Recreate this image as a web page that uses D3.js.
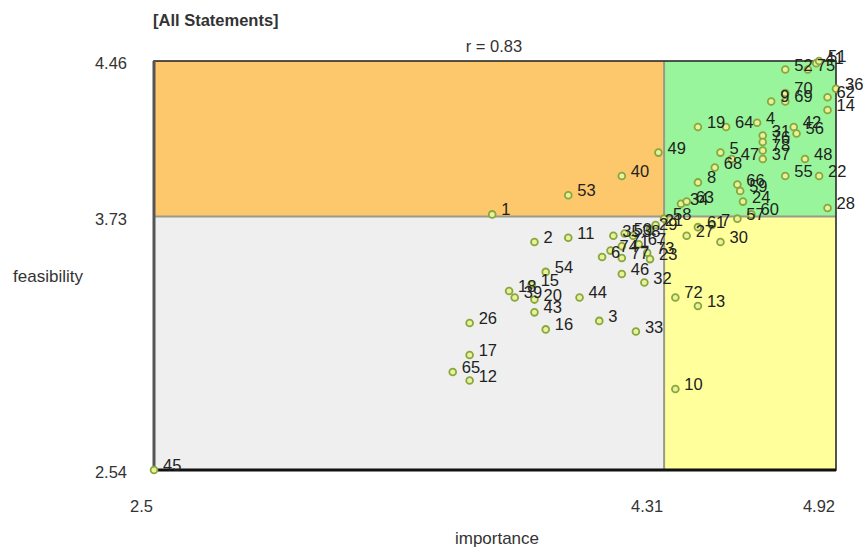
<!DOCTYPE html>
<html>
<head>
<meta charset="utf-8">
<script src="https://cdn.jsdelivr.net/npm/d3@7"></script>
<style>
  html, body { margin: 0; padding: 0; background: #ffffff; }
  svg { display: block; font-family: "Liberation Sans", Arial, sans-serif; }
</style>
</head>
<body>
<svg id="chart" width="868" height="551"></svg>
<script>
// Statement ids with their mean importance and feasibility ratings
const ids = [
  "45","1","53","40","49","2","11","26","17","65","12","10","13","72","33","3","16","43","44","20",
  "39","18","15","54","46","32","35","50","38","74","71","6","77","73","23","67","29","21","58",
  "61","7","27","30","52","75","41","51","36","62","14","9","70","69","19","64","4","42","56",
  "31","76","78","37","5","47","68","48","55","22","8","66","59","24","34","63","28","57","60"
];
const importance = [
  2.50,3.70,3.97,4.16,4.29,3.85,3.97,3.62,3.62,3.56,3.62,4.35,4.43,4.35,4.21,4.08,3.89,3.85,4.01,3.85,
  3.78,3.76,3.84,3.89,4.16,4.24,4.13,4.17,4.20,4.12,4.16,4.09,4.16,4.25,4.26,4.22,4.26,4.28,4.31,
  4.43,4.48,4.39,4.51,4.74,4.82,4.85,4.86,4.92,4.89,4.89,4.69,4.74,4.74,4.43,4.53,4.64,4.77,4.78,
  4.66,4.66,4.66,4.66,4.51,4.55,4.49,4.81,4.74,4.86,4.43,4.57,4.58,4.59,4.37,4.39,4.89,4.57,4.62
];
const feasibility = [
  2.54,3.74,3.83,3.92,4.03,3.61,3.63,3.23,3.08,3.00,2.96,2.92,3.31,3.35,3.19,3.24,3.20,3.28,3.35,3.34,
  3.35,3.38,3.41,3.47,3.46,3.42,3.64,3.65,3.64,3.57,3.59,3.54,3.535,3.56,3.53,3.60,3.67,3.69,3.72,
  3.68,3.69,3.64,3.61,4.42,4.42,4.45,4.46,4.33,4.29,4.23,4.27,4.31,4.27,4.15,4.15,4.17,4.15,4.12,
  4.11,4.08,4.04,4.00,4.03,4.00,3.96,4.00,3.92,3.92,3.89,3.88,3.85,3.80,3.79,3.80,3.77,3.72,3.74
];

// Axis range and quadrant split (mean values)
const xDomain = [2.5, 4.92];
const yDomain = [2.54, 4.46];
const xTicks = [2.5, 4.31, 4.92];
const yTicks = [2.54, 3.73, 4.46];
const xSplit = 4.31;
const ySplit = 3.73;
const titleText = "[All Statements]";
const corrText = "r = 0.83";
const xTitle = "importance";
const yTitle = "feasibility";

const points = ids.map((id, i) => ({ id, x: importance[i], y: feasibility[i] }));

const svg = d3.select("#chart");
const plotLeft = 154, plotRight = 836, plotTop = 61, plotBottom = 470;

const x = d3.scaleLinear().domain(xDomain).range([plotLeft, plotRight]);
const y = d3.scaleLinear().domain(yDomain).range([plotBottom, plotTop]);

// Quadrant backgrounds
const quads = [
  { x0: xDomain[0], x1: xSplit, y0: ySplit, y1: yDomain[1], fill: "#fdc86c" },
  { x0: xSplit, x1: xDomain[1], y0: ySplit, y1: yDomain[1], fill: "#99f59b" },
  { x0: xDomain[0], x1: xSplit, y0: yDomain[0], y1: ySplit, fill: "#efefef" },
  { x0: xSplit, x1: xDomain[1], y0: yDomain[0], y1: ySplit, fill: "#ffff9c" }
];
svg.append("g").selectAll("rect").data(quads).join("rect")
  .attr("x", d => x(d.x0))
  .attr("y", d => y(d.y1))
  .attr("width", d => x(d.x1) - x(d.x0))
  .attr("height", d => y(d.y0) - y(d.y1))
  .attr("fill", d => d.fill);

// Quadrant dividers
svg.append("line")
  .attr("x1", x(xSplit)).attr("x2", x(xSplit))
  .attr("y1", y(yDomain[1])).attr("y2", y(yDomain[0]))
  .attr("stroke", "#9a9a8a").attr("stroke-width", 2);
svg.append("line")
  .attr("x1", x(xDomain[0])).attr("x2", x(xDomain[1]))
  .attr("y1", y(ySplit)).attr("y2", y(ySplit))
  .attr("stroke", "#9a9a8a").attr("stroke-width", 2);

// Frame
svg.append("rect")
  .attr("x", plotLeft).attr("y", plotTop)
  .attr("width", plotRight - plotLeft).attr("height", plotBottom - plotTop)
  .attr("fill", "none").attr("stroke", "#2a2a2a").attr("stroke-width", 1.6);
svg.append("line")
  .attr("x1", plotLeft).attr("x2", plotRight).attr("y1", plotBottom).attr("y2", plotBottom)
  .attr("stroke", "#111").attr("stroke-width", 3);
svg.append("line")
  .attr("x1", plotLeft).attr("x2", plotLeft).attr("y1", plotTop).attr("y2", plotBottom)
  .attr("stroke", "#555").attr("stroke-width", 3);

// Points
svg.append("g").selectAll("circle").data(points).join("circle")
  .attr("cx", d => x(d.x))
  .attr("cy", d => y(d.y))
  .attr("r", 3.4)
  .attr("fill", "#ecef9c")
  .attr("stroke", "#86a83c")
  .attr("stroke-width", 1.8);

// Point labels
svg.append("g").selectAll("text").data(points).join("text")
  .attr("x", d => x(d.x) + 9)
  .attr("y", d => y(d.y) + 1)
  .attr("font-size", 16.5)
  .attr("fill", "#222")
  .text(d => d.id);

// Axis tick labels
svg.append("g").selectAll("text").data(xTicks).join("text")
  .attr("x", d => x(d) - 1)
  .attr("y", 512)
  .attr("text-anchor", "end")
  .attr("font-size", 16.5)
  .attr("fill", "#333")
  .text(d => d);
svg.append("g").selectAll("text").data(yTicks).join("text")
  .attr("x", 127)
  .attr("y", d => y(d) + 8)
  .attr("text-anchor", "end")
  .attr("font-size", 16.5)
  .attr("fill", "#333")
  .text(d => d.toFixed(2));

// Titles
svg.append("text").attr("x", 153).attr("y", 26)
  .attr("font-size", 16.5).attr("font-weight", "bold").attr("fill", "#333")
  .text(titleText);
svg.append("text").attr("x", 494).attr("y", 52)
  .attr("text-anchor", "middle").attr("font-size", 16.5).attr("fill", "#333")
  .text(corrText);
svg.append("text").attr("x", 497).attr("y", 544)
  .attr("text-anchor", "middle").attr("font-size", 17).attr("fill", "#333")
  .text(xTitle);
svg.append("text").attr("x", 48).attr("y", 282)
  .attr("text-anchor", "middle").attr("font-size", 17).attr("fill", "#333")
  .text(yTitle);
</script>
</body>
</html>
